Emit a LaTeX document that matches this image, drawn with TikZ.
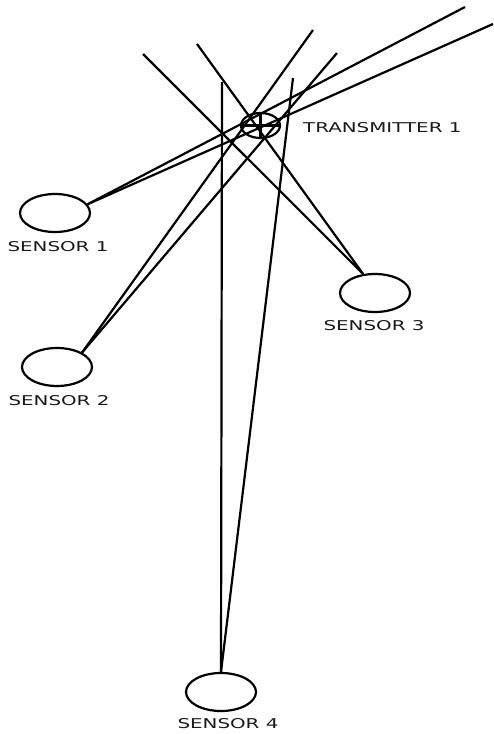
\documentclass[tikz,border=0pt]{standalone}
\usepackage{fontspec}
\setmainfont{DejaVu Sans}
\usetikzlibrary{shapes.geometric}
\tikzset{
  sensorbox/.style={draw, ellipse, line width=2.2pt, inner sep=0pt, minimum width=70pt, minimum height=38pt},
  txbox/.style={draw, ellipse, line width=2.2pt, inner sep=0pt, minimum width=39pt, minimum height=25pt},
  lbl/.style={inner sep=0pt, text=black!90, font=\fontsize{13.5}{16}\selectfont},
  wire/.style={line width=2.2pt}
}
\newcommand{\wide}[1]{\scalebox{1.47}[1]{#1}}
\begin{document}
\begin{tikzpicture}[x=1pt,y=-1pt]
\useasboundingbox (0,0) rectangle (493,734);
% nodes
\node[txbox] (tx) at (260.5,125.5) {};
\draw[wire] (tx.north) -- (tx.south) (tx.west) -- (tx.east);
\node[lbl, anchor=west] (txl) at (303,128) {\wide{TRANSMITTER 1}};
\node[sensorbox] (s1) at (55,213) {};
\node[sensorbox] (s2) at (57,367) {};
\node[sensorbox] (s3) at (375,293) {};
\node[sensorbox] (s4) at (221,692) {};
\node[lbl] (l1) at (58,246.5) {\wide{SENSOR 1}};
\node[lbl] (l2) at (59,400.5) {\wide{SENSOR 2}};
\node[lbl] (l3) at (374,325.5) {\wide{SENSOR 3}};
\node[lbl] (l4) at (228,723.5) {\wide{SENSOR 4}};
% free ends
\coordinate (e1a) at (465,7);
\coordinate (e1b) at (493,24);
\coordinate (e2a) at (313,30);
\coordinate (e2b) at (337,53);
\coordinate (e3a) at (143,54);
\coordinate (e3b) at (197,44);
\coordinate (e4a) at (222,82);
\coordinate (e4b) at (293,78);
% connectors
\draw[wire] (s1.15) -- (e1a);
\draw[wire] (s1.15) -- (e1b);
\draw[wire] (s2.30) -- (e2a);
\draw[wire] (s2.30) -- (e2b);
\draw[wire] (s3.122) -- (e3a);
\draw[wire] (s3.122) -- (e3b);
\draw[wire] (s4.north) -- (e4a);
\draw[wire] (s4.north) -- (e4b);
\end{tikzpicture}
\end{document}
